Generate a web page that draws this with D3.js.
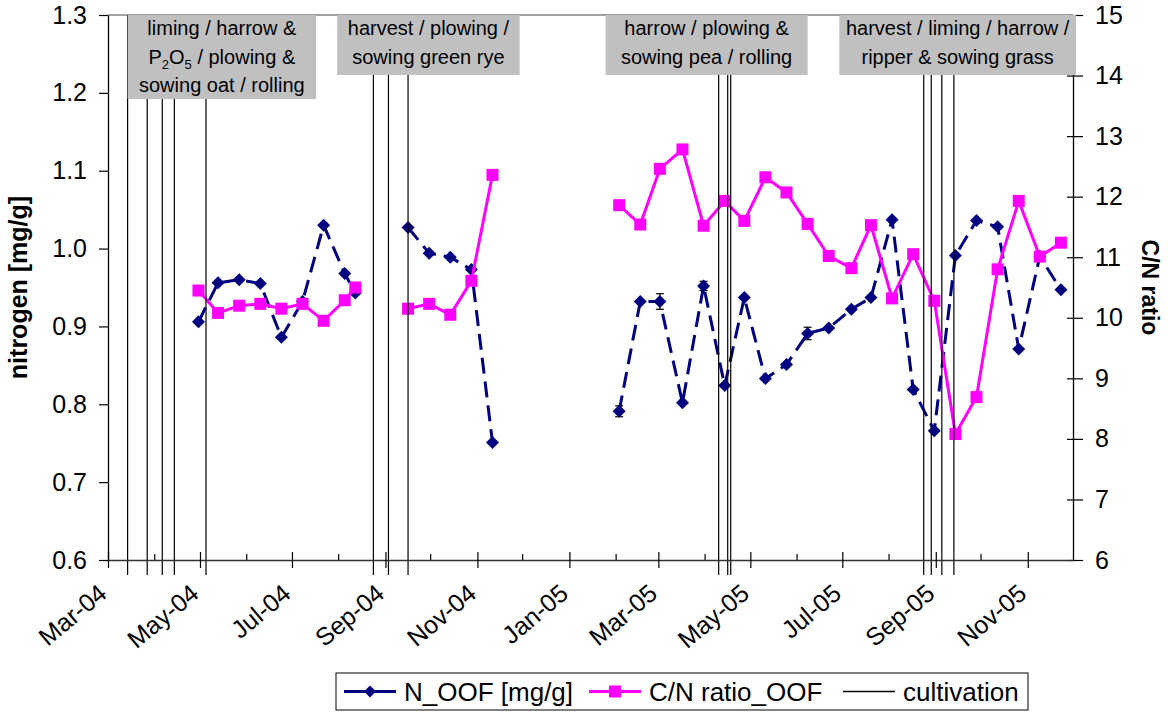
<!DOCTYPE html>
<html>
<head>
<meta charset="utf-8">
<script src="https://cdn.jsdelivr.net/npm/d3@7"></script>
<style>
  html, body { margin: 0; padding: 0; background: #fff; }
  svg { display: block; font-family: "Liberation Sans", Arial, sans-serif; }
</style>
</head>
<body>
<svg id="chart" width="1168" height="713"></svg>
<script>
// ---------------- DATA ----------------
// sampling dates (null value rows mark gaps where the lines are broken)
const sampleDates = [
  "2004-04-30","2004-05-13","2004-05-27","2004-06-10","2004-06-24","2004-07-08","2004-07-22","2004-08-05","2004-08-12",
  "2004-09-01",
  "2004-09-16","2004-09-30","2004-10-14","2004-10-28","2004-11-11",
  "2005-01-01",
  "2005-02-03","2005-02-17","2005-03-02","2005-03-17","2005-03-31","2005-04-14","2005-04-27","2005-05-11","2005-05-25",
  "2005-06-08","2005-06-22","2005-07-07","2005-07-20","2005-08-03","2005-08-17","2005-08-31","2005-09-14","2005-09-28",
  "2005-10-12","2005-10-26","2005-11-09","2005-11-23"
];
const nOOF = [
  0.906,0.956,0.960,0.955,0.886,0.932,1.030,0.968,0.943,
  null,
  1.027,0.994,0.989,0.973,0.751,
  null,
  0.791,0.932,0.932,0.802,0.952,0.824,0.937,0.833,0.851,
  0.891,0.898,0.922,0.937,1.037,0.819,0.766,0.991,1.036,
  1.028,0.871,0.990,0.947
];
const nOOFerr = [
  0,0,0,0,0,0,0,0,0,
  null,
  0,0,0,0,0,
  null,
  0.007,0,0.010,0,0.006,0,0,0,0,
  0.008,0,0,0,0,0,0,0,0,
  0,0,0,0
];
const cnOOF = [
  10.45,10.08,10.20,10.23,10.15,10.23,9.95,10.29,10.50,
  null,
  10.15,10.23,10.05,10.61,12.36,
  null,
  11.86,11.54,12.46,12.78,11.52,11.93,11.60,12.32,12.07,
  11.55,11.02,10.82,11.53,10.32,11.05,10.28,8.08,8.69,
  10.80,11.93,11.01,11.24
];
const cultivationDates = [
  "2004-03-14","2004-03-27","2004-04-06","2004-04-14","2004-05-05",
  "2004-08-24","2004-09-03","2004-09-16",
  "2005-04-10","2005-04-16","2005-04-18",
  "2005-08-24","2005-08-29","2005-09-05","2005-09-13"
];
const annotationTexts = [
  ["liming / harrow &", "P|2|O|5| / plowing &", "sowing oat / rolling"],
  ["harvest / plowing /", "sowing green rye"],
  ["harrow / plowing &", "sowing pea / rolling"],
  ["harvest / liming / harrow /", "ripper & sowing grass"]
];
const annotationSpans = [
  ["2004-03-14","2004-07-17"],
  ["2004-07-31","2004-11-29"],
  ["2005-01-25","2005-06-08"],
  ["2005-06-29","2005-12-03"]
];
const leftTicks = [0.6,0.7,0.8,0.9,1.0,1.1,1.2,1.3];
const rightTicks = [6,7,8,9,10,11,12,13,14,15];
const legendLabels = ["N_OOF [mg/g]", "C/N ratio_OOF", "cultivation"];
const axisTitles = ["nitrogen [mg/g]", "C/N ratio"];

// ---------------- LAYOUT ----------------
const L = 108, R = 1073, T = 15, B = 560;
const NAVY = "#000080", MAG = "#FF00FF";
const parse = d3.utcParse("%Y-%m-%d");

const svg = d3.select("#chart");
const x = d3.scaleUtc().domain([Date.UTC(2004,2,1), Date.UTC(2005,11,1)]).range([L, R]);
const yL = d3.scaleLinear().domain([0.6, 1.3]).range([B, T]);
const yR = d3.scaleLinear().domain([6, 15]).range([B, T]);

const rows = sampleDates.map((d, i) => ({ date: parse(d), n: nOOF[i], e: nOOFerr[i], cn: cnOOF[i] }));

// top border
svg.append("line").attr("x1", L).attr("x2", R).attr("y1", T).attr("y2", T)
  .attr("stroke", "#808080").attr("stroke-width", 1.3);

// ---------- N series ----------
const lineN = d3.line().defined(d => d.n != null).x(d => x(d.date)).y(d => yL(d.n));
svg.append("path").datum(rows).attr("d", lineN)
  .attr("fill", "none").attr("stroke", NAVY).attr("stroke-width", 3)
  .attr("stroke-dasharray", "16,8");
const errRows = rows.filter(d => d.e);
const eg = svg.append("g").attr("stroke", "#000").attr("stroke-width", 1.2);
errRows.forEach(d => {
  const cx = x(d.date);
  eg.append("line").attr("x1", cx).attr("x2", cx).attr("y1", yL(d.n + d.e)).attr("y2", yL(d.n - d.e));
  eg.append("line").attr("x1", cx - 4).attr("x2", cx + 4).attr("y1", yL(d.n + d.e)).attr("y2", yL(d.n + d.e));
  eg.append("line").attr("x1", cx - 4).attr("x2", cx + 4).attr("y1", yL(d.n - d.e)).attr("y2", yL(d.n - d.e));
});
const diamond = s => `M0,${-s}L${s},0L0,${s}L${-s},0Z`;
svg.append("g").selectAll("path").data(rows.filter(d => d.n != null)).join("path")
  .attr("d", diamond(6.5)).attr("transform", d => `translate(${x(d.date)},${yL(d.n)})`)
  .attr("fill", NAVY);

// ---------- C/N series ----------
const lineCN = d3.line().defined(d => d.cn != null).x(d => x(d.date)).y(d => yR(d.cn));
svg.append("path").datum(rows).attr("d", lineCN)
  .attr("fill", "none").attr("stroke", MAG).attr("stroke-width", 3);
svg.append("g").selectAll("rect").data(rows.filter(d => d.cn != null)).join("rect")
  .attr("x", d => x(d.date) - 6).attr("y", d => yR(d.cn) - 6)
  .attr("width", 12).attr("height", 12).attr("fill", MAG);

// ---------- cultivation lines ----------
svg.append("g").selectAll("line").data(cultivationDates.map(parse)).join("line")
  .attr("x1", d => x(d)).attr("x2", d => x(d)).attr("y1", T).attr("y2", B + 15)
  .attr("stroke", "#000").attr("stroke-width", 1.2);

// ---------- axes ----------
const fontSize = 25;
const gL = svg.append("g").attr("transform", `translate(${L},0)`)
  .call(d3.axisLeft(yL).tickValues(leftTicks).tickFormat(d3.format(".1f")).tickSize(9).tickSizeOuter(0).tickPadding(12));
gL.select(".domain").attr("stroke", "#000").attr("stroke-width", 1.3);
gL.selectAll(".tick line").attr("stroke", "#000").attr("stroke-width", 1.2);
gL.selectAll("text").attr("font-size", fontSize).attr("font-family", "Liberation Sans, Arial").attr("fill", "#000");

const gR = svg.append("g").attr("transform", `translate(${R},0)`)
  .call(d3.axisRight(yR).tickValues(rightTicks).tickFormat(d3.format("d")).tickSize(10).tickSizeOuter(0).tickPadding(12));
gR.select(".domain").attr("stroke", "#000").attr("stroke-width", 1.3);
gR.selectAll(".tick line").attr("x1", -6).attr("stroke", "#000").attr("stroke-width", 1.2);
gR.selectAll("text").attr("font-size", fontSize).attr("font-family", "Liberation Sans, Arial").attr("fill", "#000");

// minor month ticks
const minor = d3.utcMonth.range(Date.UTC(2004,3,1), Date.UTC(2005,11,1), 2);
svg.append("g").selectAll("line").data(minor).join("line")
  .attr("x1", d => x(d)).attr("x2", d => x(d)).attr("y1", B - 6).attr("y2", B)
  .attr("stroke", "#000").attr("stroke-width", 1.2);
const major = d3.utcMonth.range(Date.UTC(2004,2,1), Date.UTC(2005,11,1), 2);
const gB = svg.append("g").attr("transform", `translate(0,${B})`)
  .call(d3.axisBottom(x).tickValues(major).tickFormat(d3.utcFormat("%b-%y")).tickSize(8).tickSizeOuter(0));
gB.select(".domain").attr("stroke", "#333").attr("stroke-width", 1.5);
gB.selectAll(".tick line").attr("y1", -8).attr("stroke", "#000").attr("stroke-width", 1.2);
gB.selectAll("text").attr("font-size", fontSize).attr("font-family", "Liberation Sans, Arial").attr("fill", "#000")
  .attr("text-anchor", "end").attr("dy", null).attr("y", 0)
  .attr("transform", "translate(0,36) rotate(-40)");

// axis titles
svg.append("text").attr("transform", `translate(27,${(T + B) / 2}) rotate(-90)`)
  .attr("text-anchor", "middle").attr("font-size", 25).attr("font-weight", "bold").text(axisTitles[0]);
svg.append("text").attr("transform", `translate(1142,${(T + B) / 2}) rotate(90)`)
  .attr("text-anchor", "middle").attr("font-size", 23).attr("font-weight", "bold").text(axisTitles[1]);

// ---------- annotation boxes ----------
annotationTexts.forEach((lines, i) => {
  const x0 = x(parse(annotationSpans[i][0])), x1 = x(parse(annotationSpans[i][1]));
  const h = 24 * lines.length + 12;
  const g = svg.append("g");
  g.append("rect").attr("x", x0).attr("y", T).attr("width", x1 - x0).attr("height", h).attr("fill", "#C0C0C0");
  lines.forEach((ln, j) => {
    const t = g.append("text").attr("x", (x0 + x1) / 2).attr("y", T + 20 + 28.5 * j)
      .attr("text-anchor", "middle").attr("font-size", 20).attr("fill", "#000");
    if (ln.includes("|")) {
      ln.split("|").forEach((part, k) => {
        const sp = t.append("tspan").text(part);
        if (k % 2 === 1 && k < 4) sp.attr("font-size", 13).attr("dy", 5);
        else if (k > 0) sp.attr("dy", -5);
      });
    } else t.text(ln);
  });
});

// ---------- legend ----------
const lg = svg.append("g");
lg.append("rect").attr("x", 336).attr("y", 673).attr("width", 692).attr("height", 37)
  .attr("fill", "#fff").attr("stroke", "#000").attr("stroke-width", 1);
const legendItems = [
  { x: 344, color: NAVY, mark: "diamond" },
  { x: 589, color: MAG, mark: "square" },
  { x: 843, color: "#000", mark: null }
];
legendItems.forEach((it, i) => {
  const cy = 691.5;
  lg.append("line").attr("x1", it.x).attr("x2", it.x + 52).attr("y1", cy).attr("y2", cy)
    .attr("stroke", it.color).attr("stroke-width", it.mark ? 3 : 1.3);
  if (it.mark === "diamond") lg.append("path").attr("d", diamond(6)).attr("transform", `translate(${it.x + 26},${cy})`).attr("fill", it.color);
  if (it.mark === "square") lg.append("rect").attr("x", it.x + 20).attr("y", cy - 6).attr("width", 12).attr("height", 12).attr("fill", it.color);
  lg.append("text").attr("x", it.x + 60).attr("y", cy + 9).attr("font-size", 26).attr("fill", "#000").text(legendLabels[i]);
});
</script>
</body>
</html>
